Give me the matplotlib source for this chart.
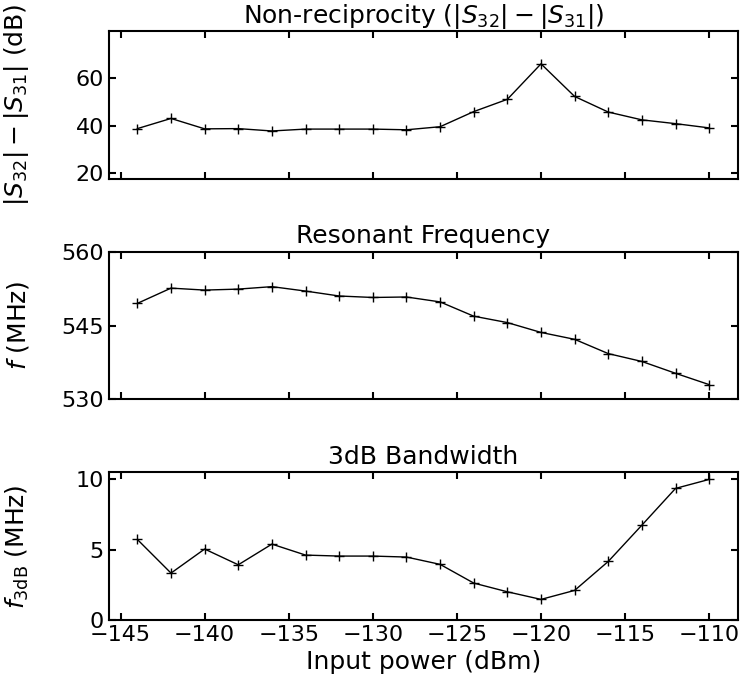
import numpy as np
import matplotlib
matplotlib.use("Agg")
import matplotlib.pyplot as plt

power = [-144, -142, -140, -138, -136, -134, -132, -130, -128,
         -126, -124, -122, -120, -118, -116, -114, -112, -110]
nonrecip = [38.7, 43.0, 38.6, 38.7, 37.7, 38.5, 38.5, 38.5, 38.2,
            39.5, 45.9, 51.1, 66.1, 52.3, 45.7, 42.4, 40.8, 39.0]
freq = [549.5, 552.6, 552.2, 552.4, 552.9, 552.0, 551.0, 550.7, 550.8,
        549.8, 546.9, 545.6, 543.6, 542.2, 539.3, 537.7, 535.3, 533.0]
bw3db = [5.73, 3.34, 5.05, 3.93, 5.40, 4.62, 4.55, 4.55, 4.48,
         3.96, 2.63, 2.01, 1.47, 2.11, 4.17, 6.75, 9.36, 10.0]

plt.rcParams["font.size"] = 16

fig, axes = plt.subplots(3, 1, figsize=(7.4, 6.74), dpi=100, sharex=True)
fig.subplots_adjust(left=0.147, right=0.997, top=0.954, bottom=0.080, hspace=0.494)

panels = [
    (nonrecip, r"Non-reciprocity ($|S_{32}| - |S_{31}|$)", r"$|S_{32}| - |S_{31}|$ (dB)", (17.5, 80), [20, 40, 60]),
    (freq, "Resonant Frequency", r"$f$ (MHz)", (530, 560), [530, 545, 560]),
    (bw3db, "3dB Bandwidth", r"$f_{\mathrm{3dB}}$ (MHz)", (0, 10.5), [0, 5, 10]),
]

for ax, (vals, title, ylab, ylim, yt) in zip(axes, panels):
    ax.plot(power, vals, color="black", lw=1, marker="+", ms=7, mew=1)
    ax.set_title(title, fontsize=18)
    ax.set_ylabel(ylab, fontsize=18, labelpad=22)
    ax.set_ylim(*ylim)
    ax.set_yticks(yt)
    ax.tick_params(direction="in", top=True, right=True, length=5, width=1.5)
    for s in ax.spines.values():
        s.set_linewidth(1.5)

axes[-1].set_xticks([-145, -140, -135, -130, -125, -120, -115, -110])
axes[-1].set_xlabel("Input power (dBm)", fontsize=18)
fig.align_ylabels(axes)

plt.savefig("out.png")
